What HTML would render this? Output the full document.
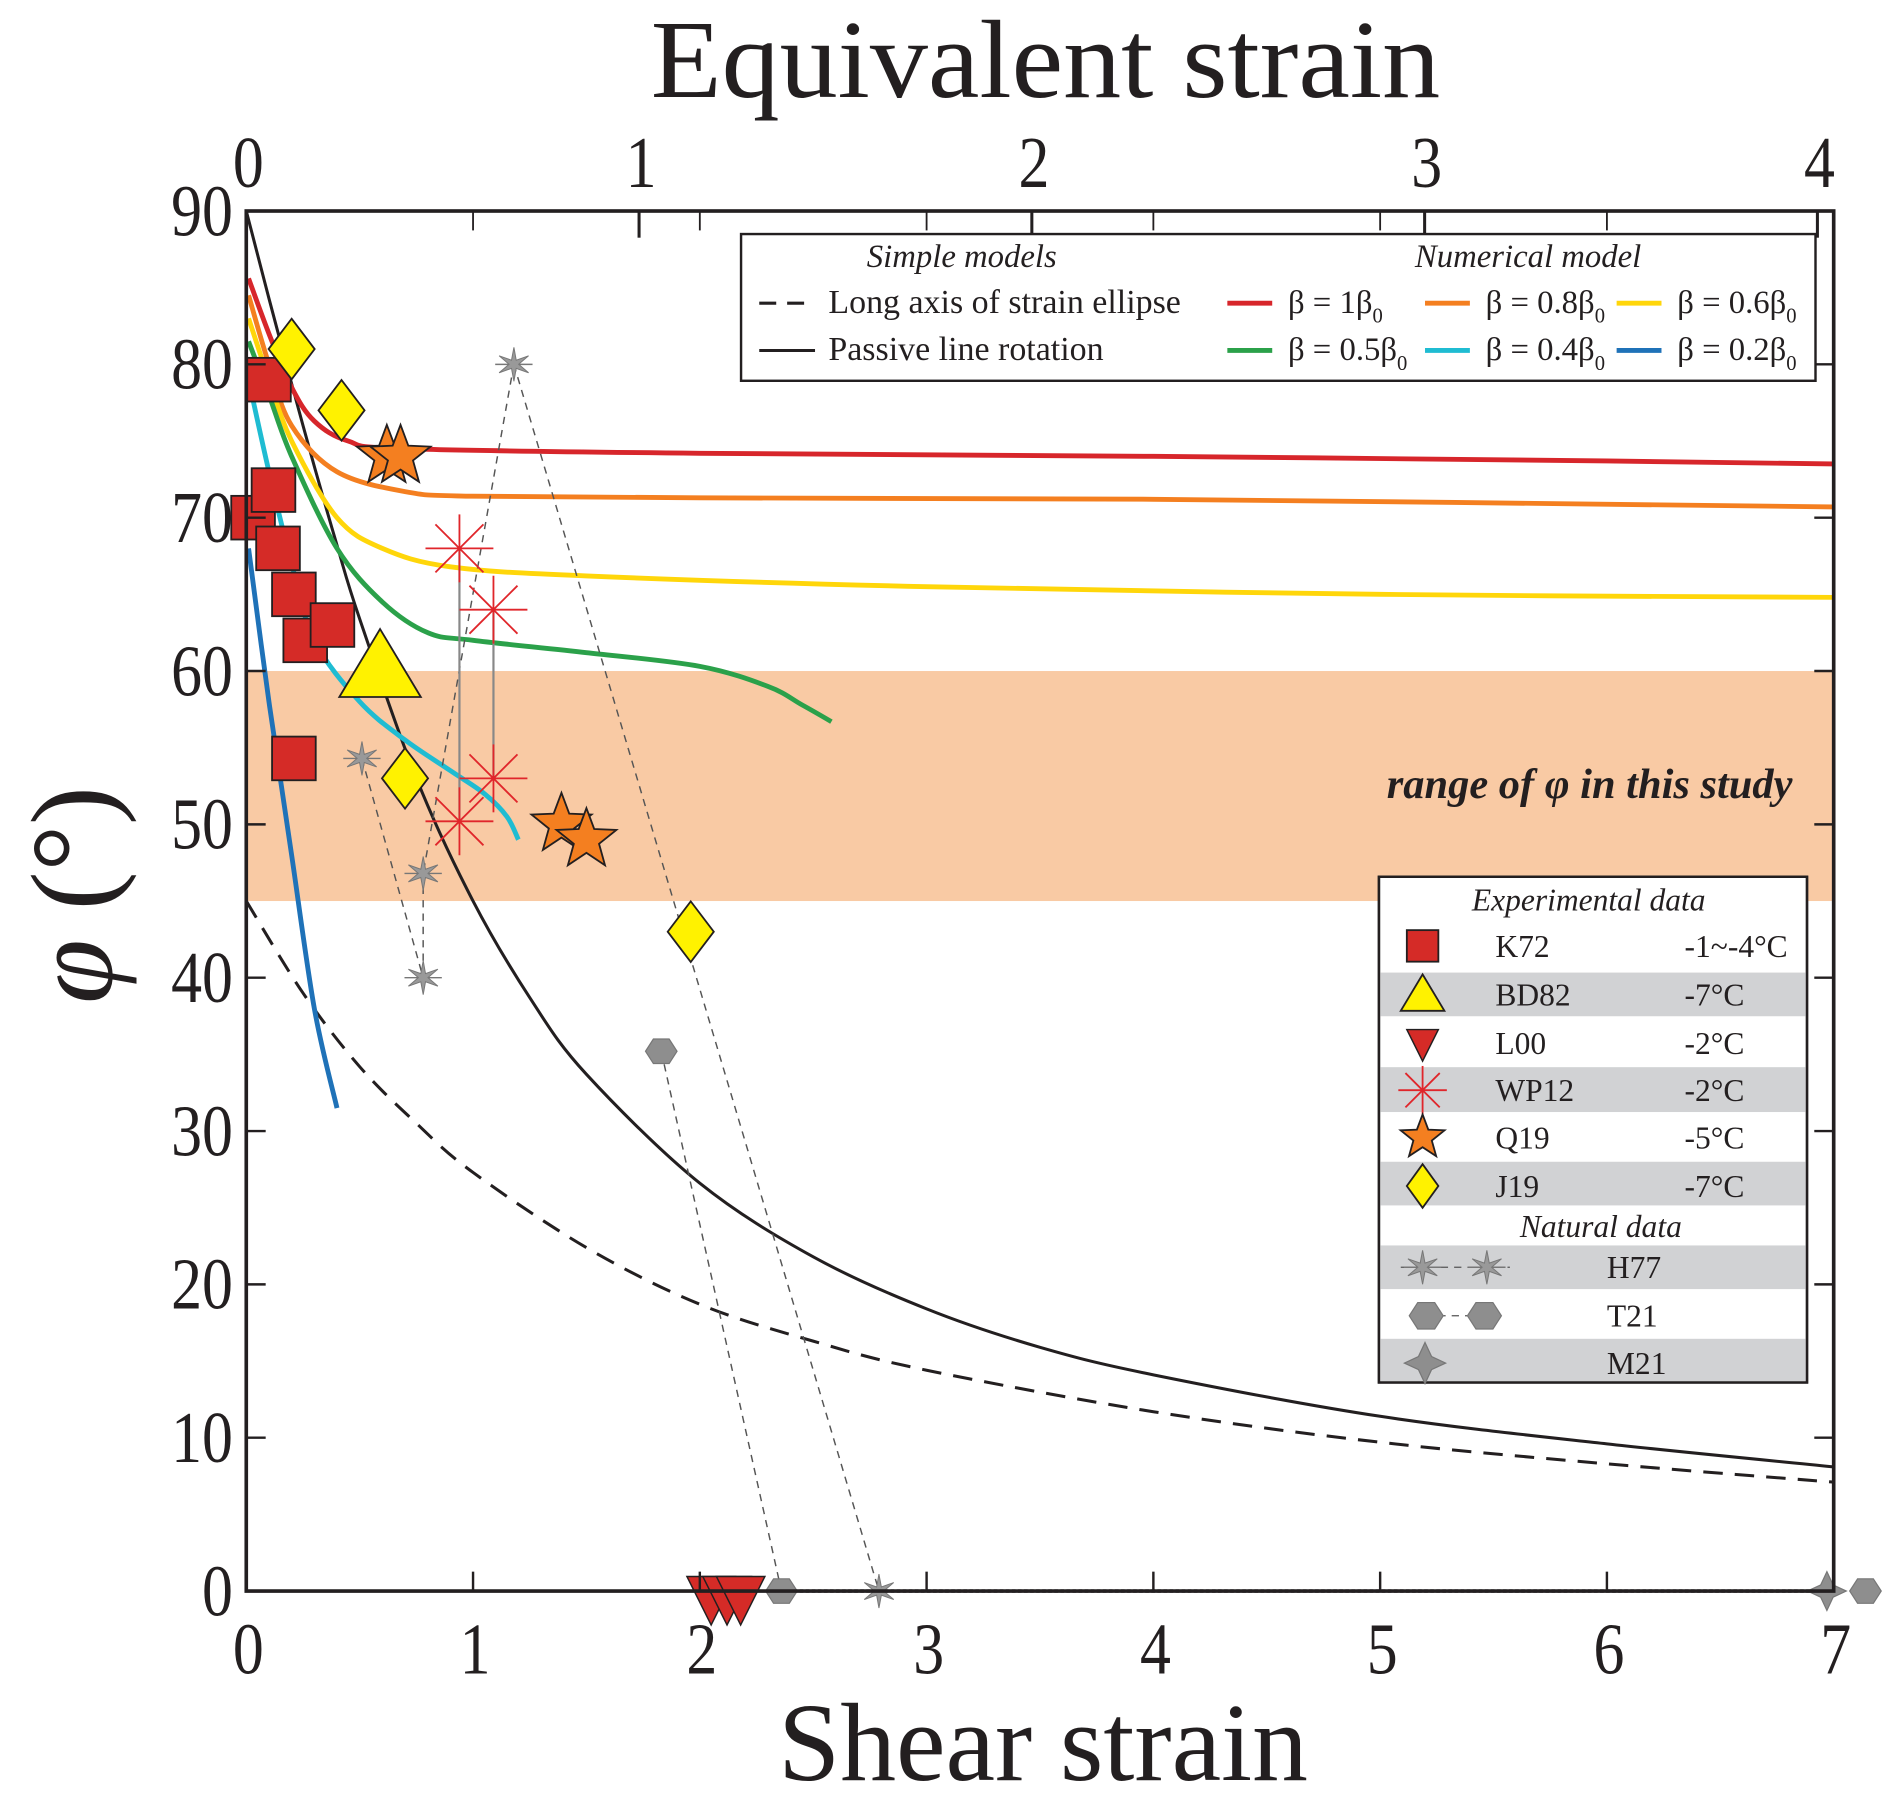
<!DOCTYPE html>
<html><head><meta charset="utf-8"><style>
html,body{margin:0;padding:0;background:#fff;}
svg{display:block;}
text{font-family:"Liberation Serif",serif;fill:#231f20;}
</style></head><body>
<svg id="chart" width="1892" height="1796" viewBox="0 0 1560 1481" xmlns="http://www.w3.org/2000/svg">
<g id="band"></g>
<g id="curves"></g>
<g id="marks"></g>
<g id="axes"></g>
<g id="legends"></g>
</svg>
<script>
// ---- data ----
const xTicks=[0,1,2,3,4,5,6,7];
const yTicks=[0,10,20,30,40,50,60,70,80,90];
const eqTicks=[0,1,2,3,4];
const passiveX=[0,0.1,0.25,0.4,0.5,0.75,1,1.25,1.5,2,2.5,3,3.5,4,5,6,7];
const passiveY=[90,84.3,76,68.2,63.4,53,45,38.7,33.7,26.6,21.8,18.4,15.9,14.1,11.4,9.6,8.1];
const ellipseX=[0,0.25,0.5,0.75,1,1.5,2,2.5,3,4,5,6,7];
const ellipseY=[45,39,34.2,30.5,27.3,22.4,18.7,16.3,14.4,11.7,9.7,8.3,7.1];
const redX=[0.01,0.1,0.2,0.3,0.45,0.7,2,4,6,7];
const redY=[85.6,82,78.5,76.3,75,74.5,74.2,74,73.7,73.5];
const orangeX=[0.01,0.1,0.2,0.4,0.7,1,2,4,7];
const orangeY=[84.5,80,76,73,71.7,71.4,71.3,71.2,70.7];
const yellowX=[0.01,0.1,0.2,0.4,0.6,0.9,1.5,3,5,7];
const yellowY=[83,79,75,70,68,66.8,66.2,65.5,65,64.8];
const greenX=[0.01,0.1,0.2,0.4,0.6,0.8,1,1.5,2,2.3,2.45,2.58];
const greenY=[81.5,78,74,68,64.5,62.5,62,61.2,60.3,59,57.8,56.7];
const cyanX=[0.01,0.1,0.2,0.3,0.5,0.7,0.9,1.05,1.15,1.2];
const cyanY=[79,73,67,62,58,55.5,53.5,52,50.5,49];
const blueX=[0.01,0.1,0.2,0.3,0.4];
const blueY=[68,58,48,38,31.5];
const k72X=[0.03,0.12,0.1,0.14,0.21,0.26,0.38,0.21];
const k72Y=[70,71.8,79,68,65,62,63,54.3];
const bd82X=[0.59]; const bd82Y=[60.3];
const l00X=[2.05,2.12,2.18]; const l00Y=[0,0,0];
const wp12X=[0.94,1.09,0.94,1.09]; const wp12Y=[68,64,50.2,53];
const q19X=[0.62,0.68,1.39,1.5]; const q19Y=[74,74,50,49];
const j19X=[0.2,0.42,0.7,1.96]; const j19Y=[81,77,53,43];
const h77X=[0.51,0.78,0.78,1.18,2.79]; const h77Y=[54.3,46.8,40,80,0];
const h77Links=[[0,2],[1,2],[3,1],[3,4]];
const t21X=[1.83,2.36,7.14]; const t21Y=[35.2,0,0];
const m21X=[6.97]; const m21Y=[0];

// ---- scales ----
const X0=203,X1=1512,Y0=1312,Y1=174;
const sx=v=>X0+(X1-X0)*v/7;
const sy=v=>Y0-(Y0-Y1)*v/90;
const sEq=v=>sx(v*Math.sqrt(3));
const NS='http://www.w3.org/2000/svg';
function mk(tag,attrs,parent){const e=document.createElementNS(NS,tag);for(const k in attrs)e.setAttribute(k,attrs[k]);parent.appendChild(e);return e;}
const G=id=>document.getElementById(id);

// band
const band=mk('rect',{x:X0,y:sy(60),width:X1-X0,height:sy(45)-sy(60),fill:'#f9caa4'},G('band'));


const bt=mk('text',{x:1478,y:658,'text-anchor':'end','font-size':35,'font-weight':'bold','font-style':'italic'},G('band'));
bt.textContent='range of φ in this study';



// curves (smooth catmull-rom through data points)
function line(xs,ys,color,w,dash,name){
  const P=xs.map((x,i)=>[sx(x),sy(ys[i])]);
  let d='M'+P[0][0].toFixed(1)+','+P[0][1].toFixed(1);
  for(let i=0;i<P.length-1;i++){
    const p0=P[Math.max(i-1,0)],p1=P[i],p2=P[i+1],p3=P[Math.min(i+2,P.length-1)];
    const c1=[p1[0]+(p2[0]-p0[0])/6,p1[1]+(p2[1]-p0[1])/6];
    const c2=[p2[0]-(p3[0]-p1[0])/6,p2[1]-(p3[1]-p1[1])/6];
    d+=`C${c1[0].toFixed(1)},${c1[1].toFixed(1)} ${c2[0].toFixed(1)},${c2[1].toFixed(1)} ${p2[0].toFixed(1)},${p2[1].toFixed(1)}`;
  }
  const p=mk('path',{d:d,fill:'none',stroke:color,'stroke-width':w,'stroke-linejoin':'round','stroke-linecap':'butt'},G('curves'));
  if(dash)p.setAttribute('stroke-dasharray',dash);
  
  
}
line(ellipseX,ellipseY,'#231f20',2.5,'16,10','strain-ellipse-curve');
line(passiveX,passiveY,'#231f20',2.5,null,'passive-rotation-curve');
line(redX,redY,'#d7262b',4,null,'beta-1-curve');
line(orangeX,orangeY,'#f47f20',4,null,'beta-0.8-curve');
line(yellowX,yellowY,'#ffd60a',4,null,'beta-0.6-curve');
line(greenX,greenY,'#2ba14a',4,null,'beta-0.5-curve');
line(cyanX,cyanY,'#1fbcd2',4,null,'beta-0.4-curve');
line(blueX,blueY,'#1f72b8',4,null,'beta-0.2-curve');

// marker shapes
function starPts(cx,cy,R,r,n){let p=[];for(let i=0;i<2*n;i++){const a=-Math.PI/2+i*Math.PI/n;const rr=i%2?r:R;p.push((cx+rr*Math.cos(a)).toFixed(1)+','+(cy+rr*Math.sin(a)).toFixed(1));}return p.join(' ');}
function square(g,cx,cy,s){return mk('rect',{x:cx-s/2,y:cy-s/2,width:s,height:s,fill:'#d52b27',stroke:'#231f20','stroke-width':1.5},g);}
function tri(g,cx,cy,s){return mk('polygon',{points:`${cx},${cy-s*0.55} ${cx+s*0.6},${cy+s*0.45} ${cx-s*0.6},${cy+s*0.45}`,fill:'#fff200',stroke:'#231f20','stroke-width':1.5},g);}
function tridown(g,cx,cy,s){return mk('polygon',{points:`${cx-s*0.5},${cy} ${cx+s*0.5},${cy} ${cx},${cy+s}`,fill:'#d52b27',stroke:'#231f20','stroke-width':1.2},g);}
function diamond(g,cx,cy,w,h){return mk('polygon',{points:`${cx},${cy-h/2} ${cx+w/2},${cy} ${cx},${cy+h/2} ${cx-w/2},${cy}`,fill:'#fff200',stroke:'#231f20','stroke-width':1.5},g);}
function star5(g,cx,cy,R){return mk('polygon',{points:starPts(cx,cy,R,R*0.42,5),fill:'#f47f20',stroke:'#231f20','stroke-width':1.5},g);}
function asterisk(g,cx,cy,R){const gg=mk('g',{stroke:'#e0262b','stroke-width':1.5},g);for(let i=0;i<4;i++){const a=i*Math.PI/4;mk('line',{x1:cx-R*Math.cos(a),y1:cy-R*Math.sin(a),x2:cx+R*Math.cos(a),y2:cy+R*Math.sin(a)},gg);}return gg;}
function star6(g,cx,cy,R){const gg=mk('g',{},g);mk('line',{x1:cx-R*1.1,y1:cy,x2:cx+R*1.1,y2:cy,stroke:'#777','stroke-width':1.2},gg);mk('polygon',{points:starPts(cx,cy,R,R*0.28,6),fill:'#999',stroke:'#777','stroke-width':0.8},gg);return gg;}
function hexa(g,cx,cy,R){let p=[];for(let i=0;i<6;i++){const a=i*Math.PI/3;p.push((cx+R*Math.cos(a)).toFixed(1)+','+(cy+R*0.9*Math.sin(a)).toFixed(1));}return mk('polygon',{points:p.join(' '),fill:'#8e8e8e',stroke:'#777','stroke-width':1},g);}
function star4(g,cx,cy,R){return mk('polygon',{points:starPts(cx,cy,R,R*0.45,4),fill:'#8e8e8e',stroke:'#777','stroke-width':1},g);}

const M=G('marks');
h77Links.forEach(l=>{const ln=mk('line',{x1:sx(h77X[l[0]]),y1:sy(h77Y[l[0]]),x2:sx(h77X[l[1]]),y2:sy(h77Y[l[1]]),stroke:'#555','stroke-width':1.2,'stroke-dasharray':'6,5'},M);

});
const tl=mk('line',{x1:sx(t21X[0]),y1:sy(t21Y[0]),x2:sx(t21X[1]),y2:sy(t21Y[1]),stroke:'#555','stroke-width':1.2,'stroke-dasharray':'6,5'},M);


[[0,2],[1,3]].forEach(l=>{const ln=mk('line',{x1:sx(wp12X[l[0]]),y1:sy(wp12Y[l[0]]),x2:sx(wp12X[l[1]]),y2:sy(wp12Y[l[1]]),stroke:'#888','stroke-width':1.8},M);

});
const zl=mk('line',{x1:sx(2.36),y1:sy(0),x2:sx(7),y2:sy(0),stroke:'#777','stroke-width':3,'stroke-dasharray':'3,2'},M);



k72X.forEach((x,i)=>{const e=square(M,sx(x),sy(k72Y[i]),36);

});
bd82X.forEach((x,i)=>{const e=tri(M,sx(x),sy(bd82Y[i]),56);

});
l00X.forEach((x,i)=>{const e=tridown(M,sx(x),sy(l00Y[i])-12,40);

});
wp12X.forEach((x,i)=>{const e=asterisk(M,sx(x),sy(wp12Y[i]),28);

});
q19X.forEach((x,i)=>{const e=star5(M,sx(x),sy(q19Y[i]),26);

});
j19X.forEach((x,i)=>{const e=diamond(M,sx(x),sy(j19Y[i]),38,50);

});
h77X.forEach((x,i)=>{const e=star6(M,sx(x),sy(h77Y[i]),14);

});
t21X.forEach((x,i)=>{const e=hexa(M,sx(x),sy(t21Y[i]),13);

});
m21X.forEach((x,i)=>{const e=star4(M,sx(x),sy(m21Y[i]),16);

});

// axes
const A=G('axes');
const frame=mk('rect',{x:X0,y:Y1,width:X1-X0,height:Y0-Y1,fill:'none',stroke:'#231f20','stroke-width':3},A);


function txt(x,y,s,size,anchor,name,extra){const t=mk('text',Object.assign({x:x,y:y,'font-size':size,'text-anchor':anchor||'middle'},extra||{}),A);t.textContent=s;

return t;}
xTicks.forEach(v=>{
  mk('line',{x1:sx(v),y1:Y0,x2:sx(v),y2:Y0-16,stroke:'#231f20','stroke-width':2},A);
  mk('line',{x1:sx(v),y1:Y1,x2:sx(v),y2:Y1+16,stroke:'#231f20','stroke-width':1.5},A);
  txt(sx(v)+2,1380,String(v),60,'middle','x-tick-label',{transform:`translate(${sx(v)},0) scale(0.85,1) translate(${-sx(v)},0)`});
});
yTicks.forEach(v=>{
  mk('line',{x1:X0,y1:sy(v),x2:X0+16,y2:sy(v),stroke:'#231f20','stroke-width':2},A);
  mk('line',{x1:X1,y1:sy(v),x2:X1-16,y2:sy(v),stroke:'#231f20','stroke-width':2},A);
  txt(192,sy(v)+20,String(v),60,'end','y-tick-label',{transform:`translate(192,0) scale(0.85,1) translate(-192,0)`});
});
eqTicks.forEach(v=>{
  mk('line',{x1:sEq(v),y1:Y1,x2:sEq(v),y2:Y1+22,stroke:'#231f20','stroke-width':2.5},A);
  txt(sEq(v)+2,154,String(v),60,'middle','top-tick-label',{transform:`translate(${sEq(v)},0) scale(0.85,1) translate(${-sEq(v)},0)`});
});
txt(860,1468,'Shear strain',92,'middle','x-axis-title',{transform:'translate(860,0) scale(1.0,1) translate(-860,0)'});
txt(862,80,'Equivalent strain',92,'middle','top-axis-title',{transform:'translate(862,0) scale(1.04,1) translate(-862,0)'});
const yt=txt(0,0,'',96,'middle','y-axis-title',{transform:'translate(92,738) rotate(-90)'});
yt.innerHTML='<tspan font-style="italic">φ</tspan> (°)';

// legends
const L=G('legends');
function lt(x,y,s,size,name,extra){const t=mk('text',Object.assign({x:x,y:y,'font-size':size},extra||{}),L);t.textContent=s;

return t;}
const lb=mk('rect',{x:611,y:193,width:886,height:121,fill:'#fff',stroke:'#231f20','stroke-width':2},L);


lt(793,220,'Simple models',27,'legend-heading',{'text-anchor':'middle','font-style':'italic'});
lt(1260,220,'Numerical model',27,'legend-heading',{'text-anchor':'middle','font-style':'italic'});
mk('line',{x1:626,y1:250,x2:672,y2:250,stroke:'#231f20','stroke-width':2.5,'stroke-dasharray':'14,9'},L);
lt(683,258,'Long axis of strain ellipse',28,'legend-entry');
mk('line',{x1:626,y1:289,x2:672,y2:289,stroke:'#231f20','stroke-width':2.5},L);
lt(683,297,'Passive line rotation',28,'legend-entry');
const legCols=[[1012,250,'#d7262b','1'],[1175,250,'#f47f20','0.8'],[1333,250,'#ffd60a','0.6'],[1012,289,'#2ba14a','0.5'],[1175,289,'#1fbcd2','0.4'],[1333,289,'#1f72b8','0.2']];
legCols.forEach(c=>{mk('line',{x1:c[0],y1:c[1],x2:c[0]+37,y2:c[1],stroke:c[2],'stroke-width':4},L);
  const t=lt(c[0]+50,c[1]+8,'',27,'legend-entry');t.innerHTML=`β = ${c[3]}β<tspan font-size="17" dy="8">0</tspan>`;});

const eb=mk('rect',{x:1137,y:723,width:353,height:417,fill:'#fff',stroke:'#231f20','stroke-width':2},L);


[[802,36],[880,37],[958,36],[1027,36],[1104,36]].forEach(r=>mk('rect',{x:1138,y:r[0],width:351,height:r[1],fill:'#d1d2d4'},L));
mk('rect',{x:1137,y:723,width:353,height:417,fill:'none',stroke:'#231f20','stroke-width':2},L);
lt(1310,751,'Experimental data',26,'legend-heading',{'text-anchor':'middle','font-style':'italic'});
lt(1320,1020,'Natural data',26,'legend-heading',{'text-anchor':'middle','font-style':'italic'});
const rows=[['K72','-1~-4°C',780],['BD82','-7°C',820],['L00','-2°C',860],['WP12','-2°C',899],['Q19','-5°C',938],['J19','-7°C',978]];
rows.forEach(r=>{lt(1233,r[2]+9,r[0],26,'legend-label');lt(1389,r[2]+9,r[1],26,'legend-label');});
square(L,1173,780,26);tri(L,1173,820,30);tridown(L,1173,849,26);asterisk(L,1173,899,20);star5(L,1173,938,19);diamond(L,1173,978,26,36);
[['H77',1045],['T21',1085],['M21',1124]].forEach(r=>lt(1325,r[1]+9,r[0],26,'legend-label'));
mk('line',{x1:1155,y1:1045,x2:1245,y2:1045,stroke:'#555','stroke-width':1,'stroke-dasharray':'6,5'},L);
star6(L,1173,1045,14);star6(L,1226,1045,14);
mk('line',{x1:1175,y1:1085,x2:1225,y2:1085,stroke:'#555','stroke-width':1,'stroke-dasharray':'6,5'},L);
hexa(L,1176,1085,14);hexa(L,1224,1085,14);
star4(L,1175,1124,17);
</script>
</body></html>
